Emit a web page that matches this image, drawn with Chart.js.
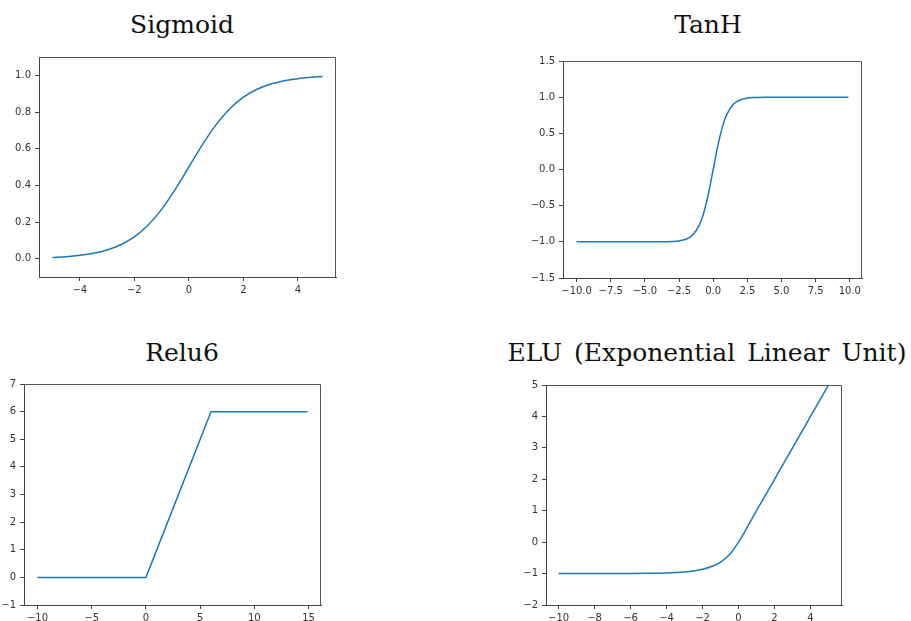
<!DOCTYPE html>
<html>
<head>
<meta charset="utf-8">
<script src="https://cdn.jsdelivr.net/npm/chart.js@4.4.1/dist/chart.umd.min.js"></script>
<style>
  html, body { margin: 0; padding: 0; background: #fff; }
  #fig { position: relative; width: 911px; height: 621px; overflow: hidden; }
  .ttl { position: absolute; font-family: "DejaVu Serif"; font-size: 25px; line-height: 30px;
         color: #111; white-space: nowrap; transform: translateX(-50%); }
  canvas { position: absolute; }
</style>
</head>
<body>
<div id="fig">
  <div class="ttl" style="left:182px; top:10px;">Sigmoid</div>
  <div class="ttl" style="left:708px; top:10px;">TanH</div>
  <div class="ttl" style="left:182px; top:338px;">Relu6</div>
  <div class="ttl" style="left:707px; top:338px; word-spacing:4px;">ELU (Exponential Linear Unit)</div>
  <canvas id="sigmoidChart"></canvas>
  <canvas id="tanhChart"></canvas>
  <canvas id="relu6Chart"></canvas>
  <canvas id="eluChart"></canvas>
</div>
<script>
// values
const sigmoidX = [-5, -4.5, -4, -3.5, -3, -2.5, -2, -1.5, -1, -0.5, 0, 0.5, 1, 1.5, 2, 2.5, 3, 3.5, 4, 4.5, 4.9];
const sigmoidY = [0.007, 0.011, 0.018, 0.029, 0.047, 0.076, 0.119, 0.182, 0.269, 0.378, 0.5, 0.622, 0.731, 0.818, 0.881, 0.924, 0.953, 0.971, 0.982, 0.989, 0.993];

const tanhX = [-10, -6, -4, -3, -2.5, -2, -1.5, -1, -0.75, -0.5, -0.25, 0, 0.25, 0.5, 0.75, 1, 1.5, 2, 2.5, 3, 4, 6, 9.9];
const tanhY = [-1, -1, -0.999, -0.995, -0.987, -0.964, -0.905, -0.762, -0.635, -0.462, -0.245, 0, 0.245, 0.462, 0.635, 0.762, 0.905, 0.964, 0.987, 0.995, 0.999, 1, 1];

const relu6X = [-10, 0, 6, 14.9];
const relu6Y = [0, 0, 6, 6];

const eluX = [-10, -8, -6, -5, -4, -3, -2.5, -2, -1.5, -1, -0.5, 0, 1, 2, 3, 4, 5];
const eluY = [-1, -1, -0.998, -0.993, -0.982, -0.95, -0.918, -0.865, -0.777, -0.632, -0.393, 0, 1, 2, 3, 4, 5];

// tick labels
const sigmoidXTicks = [-4, -2, 0, 2, 4];
const sigmoidYTicks = [0, 0.2, 0.4, 0.6, 0.8, 1.0];
const tanhXTicks = [-10, -7.5, -5, -2.5, 0, 2.5, 5, 7.5, 10];
const tanhYTicks = [-1.5, -1, -0.5, 0, 0.5, 1, 1.5];
const relu6XTicks = [-10, -5, 0, 5, 10, 15];
const relu6YTicks = [-1, 0, 1, 2, 3, 4, 5, 6, 7];
const eluXTicks = [-10, -8, -6, -4, -2, 0, 2, 4];
const eluYTicks = [-2, -1, 0, 1, 2, 3, 4, 5];

const tickFont = { family: 'DejaVu Sans', size: 10 };

// matplotlib style minus sign
function fmt(dec) {
  return v => (v < 0 ? '\u2212' : '') + Math.abs(v).toFixed(dec);
}

// top and right spines
const frame = {
  id: 'frame',
  afterDraw(chart) {
    const { ctx, chartArea: a } = chart;
    ctx.save();
    ctx.strokeStyle = '#555';
    ctx.lineWidth = 1;
    ctx.beginPath();
    ctx.moveTo(Math.round(a.left), Math.round(a.top) + 0.5);
    ctx.lineTo(Math.round(a.right) - 0.5, Math.round(a.top) + 0.5);
    ctx.lineTo(Math.round(a.right) - 0.5, Math.round(a.bottom));
    ctx.stroke();
    ctx.restore();
  }
};

function panel(id, box, xs, ys, xRange, yRange, xTicks, yTicks, xDec, yDec, smooth) {
  const cv = document.getElementById(id);
  const left = Math.max(0, box.l - 45);
  const top = box.t - 10;
  const w = box.r - left + 10;
  const h = box.b - top + 30;
  cv.style.left = left + 'px';
  cv.style.top = top + 'px';
  cv.width = w;
  cv.height = h;
  cv.style.width = w + 'px';
  cv.style.height = h + 'px';

  new Chart(cv.getContext('2d'), {
    type: 'line',
    data: {
      datasets: [{
        data: xs.map((x, i) => ({ x: x, y: ys[i] })),
        borderColor: '#1f77b4',
        borderWidth: 1.5,
        pointRadius: 0,
        fill: false,
        tension: 0,
        cubicInterpolationMode: smooth ? 'monotone' : 'default'
      }]
    },
    options: {
      responsive: false,
      animation: false,
      events: [],
      layout: { padding: { left: 0, top: 10, right: 10, bottom: 0 } },
      plugins: {
        legend: { display: false },
        tooltip: { enabled: false }
      },
      scales: {
        x: {
          type: 'linear',
          min: xRange[0],
          max: xRange[1],
          afterBuildTicks: a => { a.ticks = xTicks.map(v => ({ value: v })); },
          afterFit: a => { a.height = 30; a.paddingLeft = 0; a.paddingRight = 0; },
          ticks: { callback: fmt(xDec), color: '#333', font: tickFont, padding: 3, maxRotation: 0, autoSkip: false },
          grid: { drawOnChartArea: false, tickLength: 4, color: '#444' },
          border: { color: '#444' }
        },
        y: {
          type: 'linear',
          min: yRange[0],
          max: yRange[1],
          afterBuildTicks: a => { a.ticks = yTicks.map(v => ({ value: v })); },
          afterFit: a => { a.width = box.l - left; a.paddingTop = 0; a.paddingBottom = 0; },
          ticks: { callback: fmt(yDec), color: '#333', font: tickFont, padding: 4, autoSkip: false },
          grid: { drawOnChartArea: false, tickLength: 4, color: '#444' },
          border: { color: '#444' }
        }
      }
    },
    plugins: [frame]
  });
}

panel('sigmoidChart', { l: 39, t: 57, r: 336, b: 277 }, sigmoidX, sigmoidY,
  [-5.495, 5.395], [-0.1, 1.1], sigmoidXTicks, sigmoidYTicks, 0, 1, true);
panel('tanhChart', { l: 563, t: 61, r: 862, b: 278 }, tanhX, tanhY,
  [-10.995, 10.895], [-1.5, 1.5], tanhXTicks, tanhYTicks, 1, 1, true);
panel('relu6Chart', { l: 24, t: 384, r: 321, b: 605 }, relu6X, relu6Y,
  [-11.245, 16.145], [-1, 7], relu6XTicks, relu6YTicks, 0, 0, false);
panel('eluChart', { l: 546, t: 385, r: 842, b: 605 }, eluX, eluY,
  [-10.7, 5.75], [-2, 5], eluXTicks, eluYTicks, 0, 0, true);
</script>
</body>
</html>
